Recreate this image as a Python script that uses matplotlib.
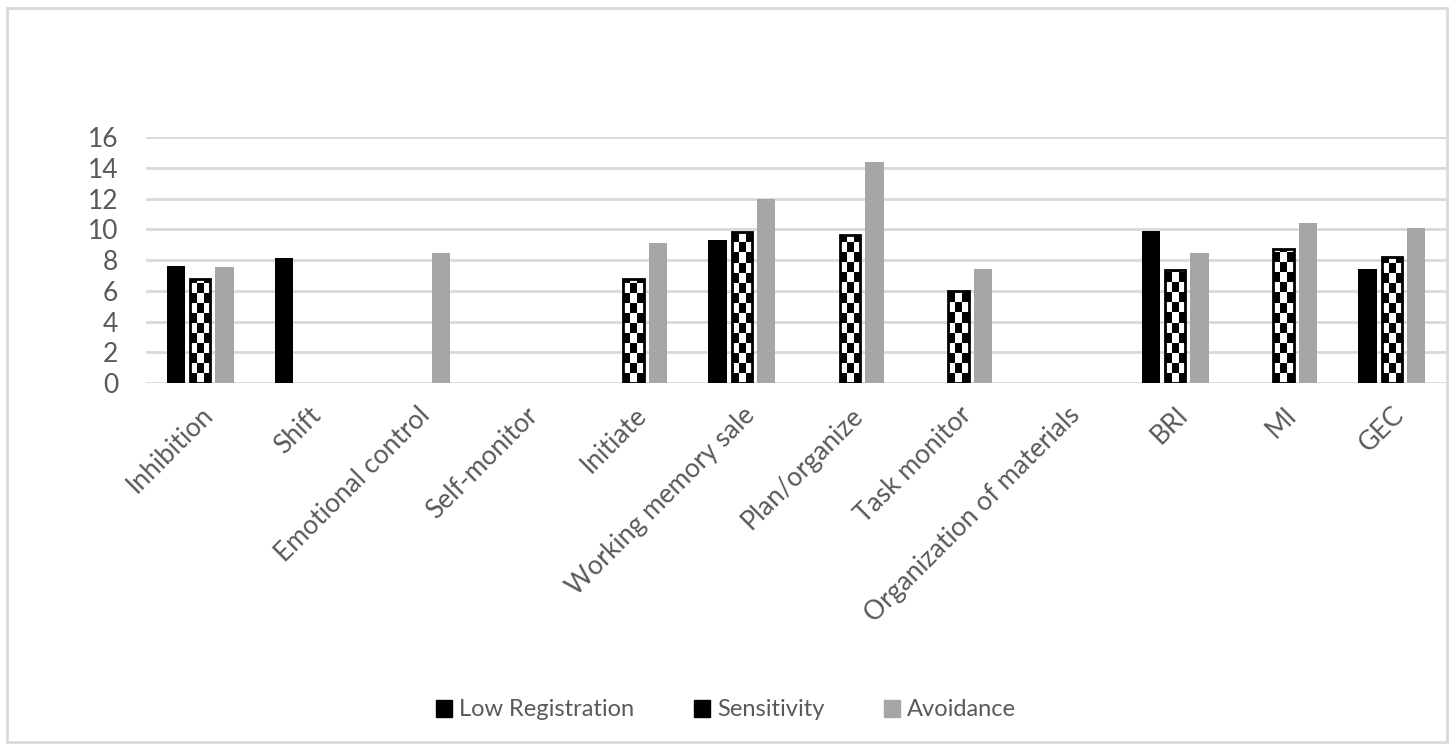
import matplotlib
matplotlib.use("Agg")
import matplotlib.pyplot as plt
import numpy as np
from matplotlib.patches import Patch, Rectangle

categories = ["Inhibition", "Shift", "Emotional control", "Self-monitor", "Initiate",
              "Working memory sale", "Plan/organize", "Task monitor",
              "Organization of materials", "BRI", "MI", "GEC"]
low_registration = [7.63, 8.15, 0, 0, 0, 9.3, 0, 0, 0, 9.89, 0, 7.41]
sensitivity = [6.76, 0, 0, 0, 6.79, 9.84, 9.63, 6.0, 0, 7.35, 8.72, 8.22]
avoidance = [7.54, 0, 8.43, 0, 9.08, 12.0, 14.37, 7.44, 0, 8.43, 10.39, 10.1]
yticks = [0, 2, 4, 6, 8, 10, 12, 14, 16]

text_color = "#595959"
grid_color = "#d9d9d9"
plt.rcParams["font.family"] = ["Lato", "DejaVu Sans"]

fig = plt.figure(figsize=(14.52, 7.5), dpi=100)
ax = fig.add_axes([146 / 1452, 1 - 383 / 750, 1300 / 1452, 246 / 750])

x = np.arange(len(categories))
step = 0.225
w = 0.17

ax.bar(x - step, low_registration, w, color="black", zorder=3)
ax.bar(x + step, avoidance, w, color="#a6a6a6", zorder=3)

# sensitivity bars: white bar + clipped checkerboard + black outline
sens_bars = ax.bar(x, sensitivity, w + 0.02, color="white", zorder=3)
cell_h = 0.65
for bar in sens_bars:
    h = bar.get_height()
    if h <= 0:
        bar.set_visible(False)
        continue
    x0 = bar.get_x()
    bw = bar.get_width()
    nrows = int(np.ceil(h / cell_h))
    grid = np.add.outer(np.arange(nrows), np.arange(3)) % 2
    im = ax.imshow(grid, cmap="gray", extent=(x0, x0 + bw, 0, nrows * cell_h),
                   origin="lower", interpolation="nearest", aspect="auto", zorder=3.5)
    im.set_clip_path(bar)
    ax.add_patch(Rectangle((x0, 0), bw, h, facecolor="none", edgecolor="black",
                           linewidth=2, zorder=4))

ax.set_xlim(-0.5, len(categories) - 0.5)
ax.set_ylim(0, 16)
ax.set_yticks(yticks)
ax.set_xticks(x)
ax.set_xticklabels(categories, rotation=45, ha="right", rotation_mode="anchor")
for lbl in ax.get_xticklabels():
    lbl.set_x(lbl.get_position()[0])
ax.tick_params(axis="both", length=0, colors=text_color, labelsize=19)
ax.tick_params(axis="y", pad=20)
ax.tick_params(axis="x", pad=14)
ax.grid(axis="y", color=grid_color, linewidth=2)
ax.set_axisbelow(True)
for s in ax.spines.values():
    s.set_visible(False)

handles = [Patch(facecolor="black", edgecolor="black"),
           Patch(facecolor="black", edgecolor="black"),
           Patch(facecolor="#a6a6a6", edgecolor="#a6a6a6")]
leg = fig.legend(handles, ["Low Registration", "Sensitivity", "Avoidance"],
                 loc="center", bbox_to_anchor=(0.5, 1 - 710 / 750), ncol=3,
                 frameon=False, fontsize=17, handlelength=0.7, handleheight=0.7,
                 handletextpad=0.3, columnspacing=2.5)
for t in leg.get_texts():
    t.set_color(text_color)

fig.patches.append(Rectangle((7 / 1452, 1 - 742 / 750), 1440 / 1452, 734 / 750,
                             transform=fig.transFigure, facecolor="none",
                             edgecolor=grid_color, linewidth=2))

fig.savefig("out.png", dpi=100)
